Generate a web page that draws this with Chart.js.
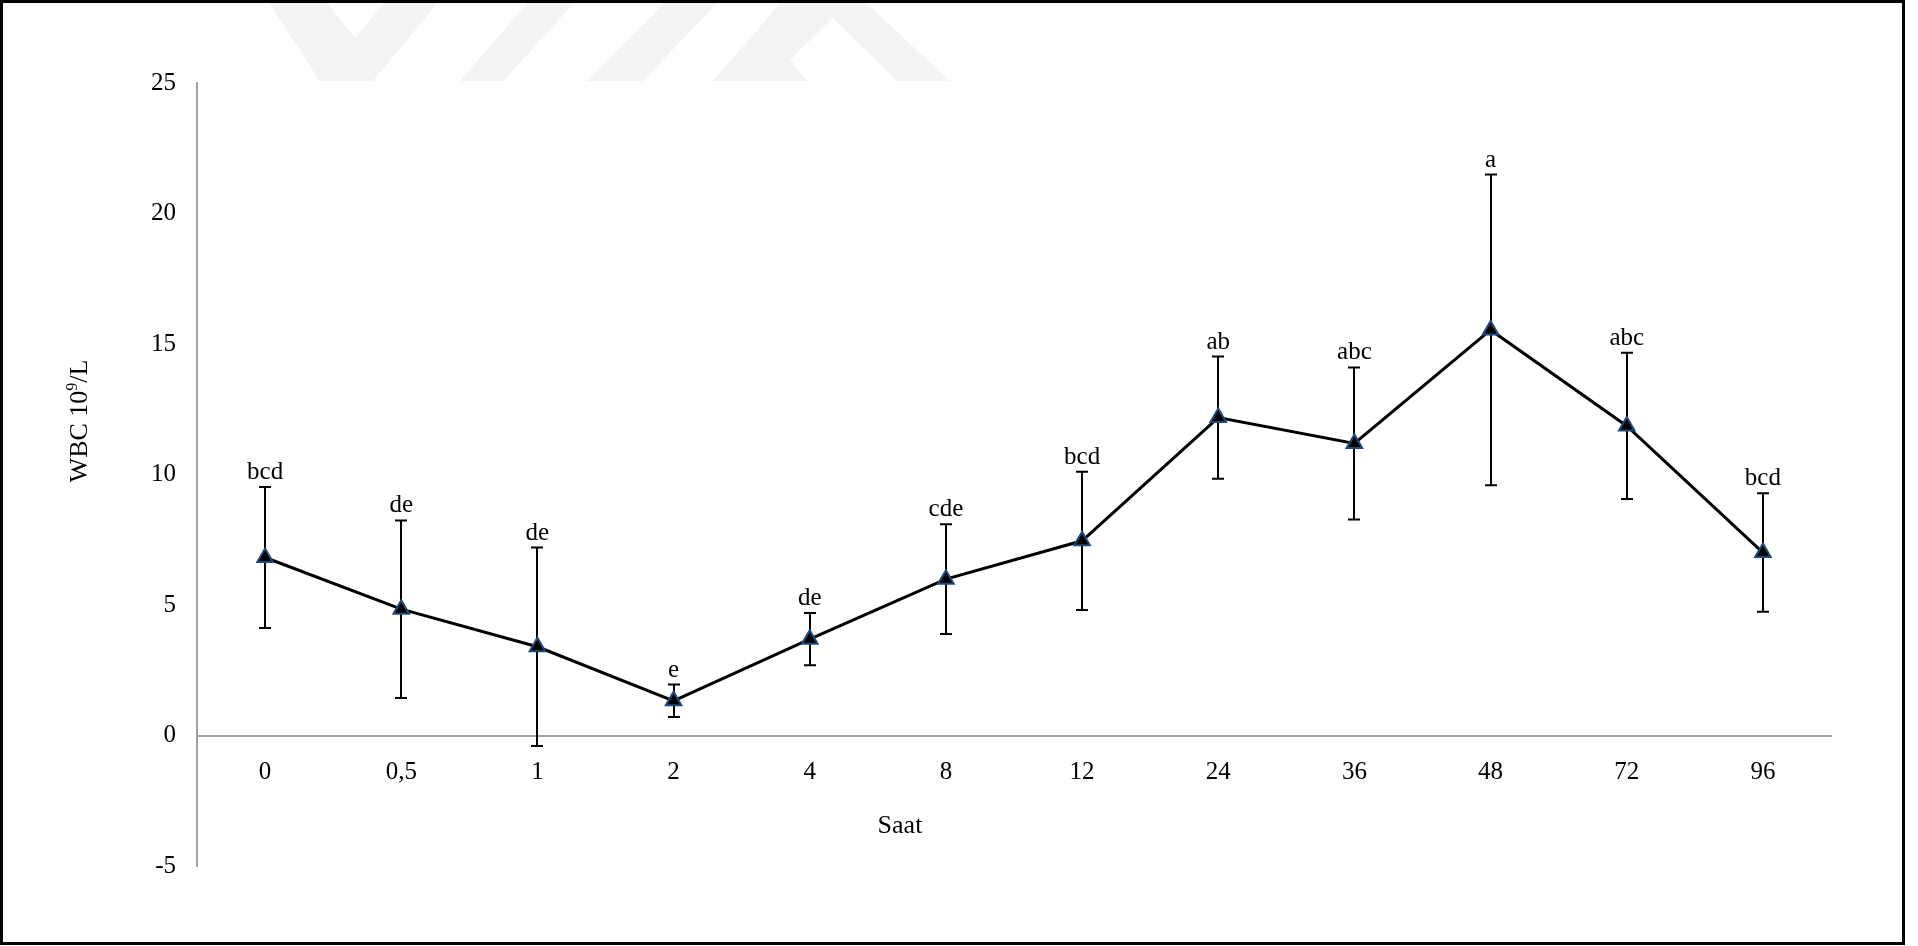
<!DOCTYPE html>
<html>
<head>
<meta charset="utf-8">
<script src="https://cdn.jsdelivr.net/npm/chart.js@4.4.1/dist/chart.umd.min.js"></script>
<style>
  html, body { margin: 0; padding: 0; background: #ffffff; }
  canvas { display: block; }
</style>
</head>
<body>
<canvas id="wbcChart" width="1918" height="946"></canvas>
<script>
// Sampling hours (x categories)
const hours = ['0', '0,5', '1', '2', '4', '8', '12', '24', '36', '48', '72', '96'];
// Mean WBC (10^9/L) per sampling hour
const wbcMean = [6.82, 4.84, 3.40, 1.33, 3.69, 5.99, 7.46, 12.18, 11.19, 15.54, 11.86, 7.01];
// Standard deviation per sampling hour
const wbcSd = [2.70, 3.40, 3.80, 0.62, 1.00, 2.10, 2.65, 2.34, 2.91, 5.95, 2.80, 2.27];
// Significance group letters
const groupLetters = ['bcd', 'de', 'de', 'e', 'de', 'cde', 'bcd', 'ab', 'abc', 'a', 'abc', 'bcd'];
// Value axis ticks
const yTicks = [-5, 0, 5, 10, 15, 20, 25];

const SERIF = "'Liberation Serif', 'Times New Roman', serif";
const FONT_SIZE = 25;
const TITLE_SIZE = 26;
const AXIS_GRAY = '#a0a0a0';

// Page frame and faint logo in the background
const framePlugin = {
  id: 'frame',
  beforeDraw(chart) {
    const ctx = chart.ctx;
    ctx.save();
    ctx.fillStyle = '#ffffff';
    ctx.fillRect(0, 0, chart.width, chart.height);
    ctx.fillStyle = '#f3f3f3';
    const shapes = [
      [[267, 0], [325, 0], [355, 38], [387, 0], [440, 0], [373, 81], [320, 81]],
      [[530, 0], [577, 0], [503, 81], [460, 81]],
      [[667, 0], [720, 0], [643, 81], [587, 81]],
      [[783, 0], [863, 0], [950, 81], [897, 81], [833, 18], [790, 60], [807, 81], [713, 81]]
    ];
    shapes.forEach(pts => {
      ctx.beginPath();
      pts.forEach((p, i) => (i ? ctx.lineTo(p[0], p[1]) : ctx.moveTo(p[0], p[1])));
      ctx.closePath();
      ctx.fill();
    });
    ctx.strokeStyle = '#000000';
    ctx.lineWidth = 3;
    ctx.strokeRect(1.5, 1.5, 1902, 942);
    ctx.restore();
  }
};

// Vertical error bars (mean ± SD) with caps
const errorBarPlugin = {
  id: 'errorBars',
  beforeDatasetsDraw(chart) {
    const ctx = chart.ctx;
    const xs = chart.scales.x;
    const ys = chart.scales.y;
    ctx.save();
    ctx.strokeStyle = '#000000';
    ctx.lineWidth = 2;
    wbcMean.forEach((m, i) => {
      const x = Math.round(xs.getPixelForValue(i));
      const yHi = ys.getPixelForValue(m + wbcSd[i]);
      const yLo = ys.getPixelForValue(m - wbcSd[i]);
      ctx.beginPath();
      ctx.moveTo(x, yHi);
      ctx.lineTo(x, yLo);
      ctx.moveTo(x - 6, yHi);
      ctx.lineTo(x + 6, yHi);
      ctx.moveTo(x - 6, yLo);
      ctx.lineTo(x + 6, yLo);
      ctx.stroke();
    });
    ctx.restore();
  }
};

// Group letters placed above each upper error cap
const letterPlugin = {
  id: 'groupLetters',
  afterDatasetsDraw(chart) {
    const ctx = chart.ctx;
    const xs = chart.scales.x;
    const ys = chart.scales.y;
    ctx.save();
    ctx.fillStyle = '#000000';
    ctx.font = FONT_SIZE + 'px ' + SERIF;
    ctx.textAlign = 'center';
    ctx.textBaseline = 'alphabetic';
    groupLetters.forEach((t, i) => {
      const x = xs.getPixelForValue(i);
      const yHi = ys.getPixelForValue(wbcMean[i] + wbcSd[i]);
      ctx.fillText(t, x, yHi - 8);
    });
    ctx.restore();
  }
};

// Axis titles: "WBC 10⁹/L" (rotated) and "Saat"
const axisTitlePlugin = {
  id: 'axisTitles',
  afterDraw(chart) {
    const ctx = chart.ctx;
    ctx.save();
    ctx.fillStyle = '#000000';
    ctx.textBaseline = 'middle';
    // y title
    ctx.translate(80, 421);
    ctx.rotate(-Math.PI / 2);
    const main = TITLE_SIZE + 'px ' + SERIF;
    const sup = Math.round(TITLE_SIZE * 0.62) + 'px ' + SERIF;
    const parts = [['WBC 10', main, 0], ['9', sup, -7], ['/L', main, 0]];
    let total = 0;
    parts.forEach(p => { ctx.font = p[1]; total += ctx.measureText(p[0]).width; });
    let cx = -total / 2;
    ctx.textAlign = 'left';
    parts.forEach(p => {
      ctx.font = p[1];
      ctx.fillText(p[0], cx, p[2]);
      cx += ctx.measureText(p[0]).width;
    });
    ctx.setTransform(1, 0, 0, 1, 0, 0);
    // x title
    ctx.font = main;
    ctx.textAlign = 'center';
    ctx.fillText('Saat', 900, 826);
    ctx.restore();
  }
};

new Chart(document.getElementById('wbcChart'), {
  type: 'line',
  data: {
    labels: hours,
    datasets: [{
      label: 'WBC',
      data: wbcMean,
      borderColor: '#000000',
      borderWidth: 3,
      tension: 0,
      pointStyle: 'triangle',
      pointRadius: 9,
      pointHoverRadius: 9,
      pointBackgroundColor: '#000000',
      pointBorderColor: '#1f4a7c',
      pointBorderWidth: 2
    }]
  },
  options: {
    responsive: false,
    animation: false,
    devicePixelRatio: 1,
    layout: { padding: { left: 0, top: 83, right: 87, bottom: 80 } },
    plugins: {
      legend: { display: false },
      tooltip: { enabled: false },
      title: { display: false }
    },
    scales: {
      x: {
        type: 'category',
        position: { y: 0 },
        offset: true,
        grid: { display: false, drawTicks: false, tickLength: 0 },
        border: { display: true, color: AXIS_GRAY, width: 2 },
        ticks: {
          color: '#000000',
          font: { family: SERIF, size: FONT_SIZE },
          padding: 22,
          maxRotation: 0,
          autoSkip: false
        }
      },
      y: {
        position: 'left',
        min: yTicks[0],
        max: yTicks[yTicks.length - 1],
        grid: { display: false, drawTicks: false, tickLength: 0 },
        border: { display: true, color: AXIS_GRAY, width: 2 },
        afterFit(scale) { scale.width = 197; },
        afterBuildTicks(scale) { scale.ticks = yTicks.map(v => ({ value: v })); },
        ticks: {
          color: '#000000',
          font: { family: SERIF, size: FONT_SIZE },
          padding: 21
        }
      }
    }
  },
  plugins: [framePlugin, errorBarPlugin, letterPlugin, axisTitlePlugin]
});
</script>
</body>
</html>
